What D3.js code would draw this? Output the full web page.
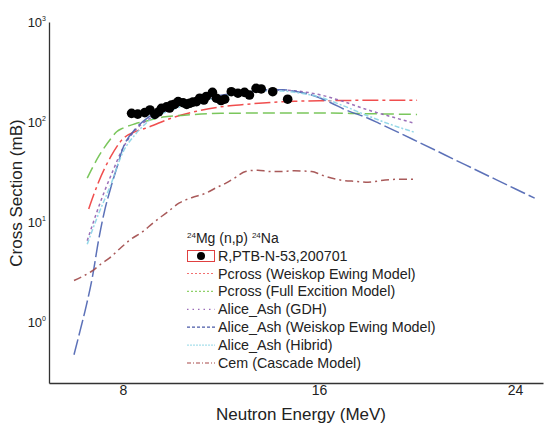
<!DOCTYPE html>
<html>
<head>
<meta charset="utf-8">
<script src="https://cdn.jsdelivr.net/npm/d3@7"></script>
<style>
  body { margin: 0; background: #fff; }
  text { font-family: "Liberation Sans", Arial, sans-serif; fill: #222; }
</style>
</head>
<body>
<svg id="chart" width="545" height="424"></svg>
<script>
// measured points R,PTB-N-53,200701
var expE   = [8.35, 8.6, 8.89, 9.1, 9.3, 9.45, 9.57, 9.78, 9.9, 9.98, 10.1, 10.25, 10.45, 10.6, 10.72, 10.85, 11.0, 11.13, 11.3, 11.4, 11.65, 11.81, 12.0, 12.15, 12.42, 12.69, 12.96, 13.16, 13.43, 13.64, 14.11, 14.72];
var expSig = [122, 120, 124, 132, 119, 126, 137, 142, 138, 148, 150, 160, 156, 150, 154, 158, 160, 173, 166, 180, 198, 173, 164, 169, 201, 194, 198, 186, 217, 214, 201, 169];

// model curves
var pcWeE   = [6.6, 7.0, 7.5, 8.0, 8.5, 9.0, 10, 11, 12, 13, 14, 15, 16, 17, 18, 19, 20];
var pcWeSig = [13.5, 25, 45, 68, 80, 88, 110, 128, 142, 150, 157, 161, 163, 164, 165, 165, 165];

var pcFeE   = [6.54, 7.0, 7.5, 7.74, 8.0, 8.5, 9.0, 9.63, 10.5, 12, 14, 16, 18, 20];
var pcFeSig = [27.5, 45, 68, 80, 87, 96, 103, 112, 117, 122, 123, 123, 121, 119];

var gdhE   = [6.54, 7.0, 7.27, 7.6, 8.0, 8.28, 8.6, 9.0, 10, 11, 12, 13, 14, 14.5, 15, 16, 17, 18, 19, 19.9];
var gdhSig = [6.5, 14, 21, 33, 55, 71, 88, 105, 135, 160, 180, 197, 207, 208, 205, 188, 160, 132, 112, 97];

var aweE   = [6.0, 6.25, 6.5, 6.75, 7.0, 7.25, 7.5, 7.75, 8.0, 8.5, 9.0, 10, 11, 12, 13, 14, 14.5, 15.0, 15.7, 16.5, 17.0, 18.0, 18.45, 20.0, 22.0, 24.0, 24.8];
var aweSig = [0.47, 0.82, 1.45, 2.8, 6.5, 13, 22, 35, 55, 85, 110, 140, 165, 185, 200, 210, 210, 203, 186, 155, 135, 109, 97, 64, 37, 21.5, 17.3];

var hibE   = [6.54, 7.0, 7.47, 8.0, 8.5, 9.0, 10, 11, 12, 13, 14, 14.5, 15, 16, 17, 18, 19, 19.9];
var hibSig = [6, 12, 22.6, 50, 75, 100, 132, 158, 178, 196, 205, 204, 198, 178, 145, 115, 93, 79];

var cemE   = [6.0, 6.4, 6.79, 7.1, 7.47, 7.9, 8.28, 8.8, 9.23, 9.8, 10.3, 10.8, 11.4, 11.8, 12.2, 12.6, 13.0, 13.5, 14.0, 14.4, 15.0, 15.7, 16.1, 16.5, 17.0, 17.5, 18.0, 18.7, 19.3, 19.9];
var cemSig = [2.6, 2.9, 3.3, 3.8, 4.4, 5.5, 6.6, 8, 9.8, 12.5, 15.5, 17.5, 19.5, 22, 24.5, 28, 32, 33, 32, 32, 32.5, 32, 29.5, 27.5, 26, 25.5, 25, 26.3, 26.8, 26.8];

var xTicks = [8, 16, 24];
var yTicks = [1, 10, 100, 1000];

var models = [
  {name: "Pcross (Weiskop Ewing Model)", e: pcWeE, s: pcWeSig, color: "#ee3b3b", dash: "16,4,3,4", legColor: "#f27070", legDash: "2,2"},
  {name: "Pcross (Full Excition Model)", e: pcFeE, s: pcFeSig, color: "#6cc04a", dash: "12,5", legColor: "#8fd16a", legDash: "2,2"},
  {name: "Alice_Ash (GDH)", e: gdhE, s: gdhSig, color: "#9060b0", dash: "3,3", legColor: "#9a6cb8", legDash: "1.5,4"},
  {name: "Alice_Ash (Weiskop Ewing Model)", e: aweE, s: aweSig, color: "#4a62b0", dash: "16,4", legColor: "#4a5aa8", legDash: "3,2"},
  {name: "Alice_Ash (Hibrid)", e: hibE, s: hibSig, color: "#8ad4e6", dash: "5,2,2,2", legColor: "#a8dfec", legDash: "2,1"},
  {name: "Cem (Cascade Model)", e: cemE, s: cemSig, color: "#a04848", dash: "8,4,2,4", legColor: "#a84848", legDash: "4,2,1,2"}
];

var svg = d3.select("#chart");

var x = d3.scaleLinear().domain([4.98, 25.14]).range([49, 543]);
var y = d3.scaleLog().domain([Math.pow(10, -0.61), 1000]).range([383, 22]);

// axes
var xAxis = svg.append("g").attr("transform", "translate(0,383)")
  .call(d3.axisBottom(x).tickValues(xTicks).tickSize(0).tickPadding(2).tickFormat(d3.format("d")));
xAxis.select(".domain").attr("stroke", "#333").attr("stroke-width", 1.3);
xAxis.selectAll("text").style("font-size", "14px").attr("fill", "#222");

var yAxis = svg.append("g").attr("transform", "translate(49,0)")
  .call(d3.axisLeft(y).tickValues(yTicks).tickSize(0).tickPadding(3).tickFormat(""));
yAxis.select(".domain").attr("stroke", "#333").attr("stroke-width", 1.3);
yAxis.selectAll(".tick text").each(function(d) {
  var t = d3.select(this).style("font-size", "13px").attr("fill", "#222");
  t.append("tspan").text("10");
  t.append("tspan").attr("dy", "-6").style("font-size", "7px").text(Math.round(Math.log10(d)));
});

// titles
svg.append("text").attr("x", 301).attr("y", 420).attr("text-anchor", "middle")
  .style("font-size", "17px").text("Neutron Energy (MeV)");
svg.append("text").attr("transform", "translate(22,193) rotate(-90)").attr("text-anchor", "middle")
  .style("font-size", "17px").text("Cross Section (mB)");

// model lines
var line = d3.line().curve(d3.curveMonotoneX);
models.forEach(function(m) {
  var pts = m.e.map(function(e, i) { return [x(e), y(m.s[i])]; });
  svg.append("path").attr("d", line(pts)).attr("fill", "none")
    .attr("stroke", m.color).attr("stroke-width", 1.5)
    .attr("stroke-dasharray", m.dash).attr("opacity", 0.9);
});

// measured points
svg.append("g").selectAll("circle").data(expE).join("circle")
  .attr("cx", function(d) { return x(d); })
  .attr("cy", function(d, i) { return y(expSig[i]); })
  .attr("r", 4.8).attr("fill", "#000");

// legend
var lg = svg.append("g").attr("transform", "translate(187,0)");
var lt = lg.append("text").attr("x", 0).attr("y", 243).style("font-size", "14px");
lt.append("tspan").style("font-size", "8px").attr("dy", "-5").text("24");
lt.append("tspan").attr("dy", "5").text("Mg (n,p) ");
lt.append("tspan").style("font-size", "8px").attr("dy", "-5").text("24");
lt.append("tspan").attr("dy", "5").text("Na");

lg.append("rect").attr("x", 0.5).attr("y", 250.5).attr("width", 27).attr("height", 11)
  .attr("fill", "#fff").attr("stroke", "#e04040").attr("stroke-width", 1);
lg.append("circle").attr("cx", 14).attr("cy", 256).attr("r", 4).attr("fill", "#000");
lg.append("text").attr("x", 31).attr("y", 260.5).style("font-size", "14.3px").text("R,PTB-N-53,200701");

models.forEach(function(m, i) {
  var cy = 273.5 + i * 17.9;
  lg.append("line").attr("x1", 0).attr("x2", 28).attr("y1", cy).attr("y2", cy)
    .attr("stroke", m.legColor).attr("stroke-width", 1.2).attr("stroke-dasharray", m.legDash);
  lg.append("text").attr("x", 31).attr("y", cy + 5).style("font-size", "14.3px").text(m.name);
});
</script>
</body>
</html>
